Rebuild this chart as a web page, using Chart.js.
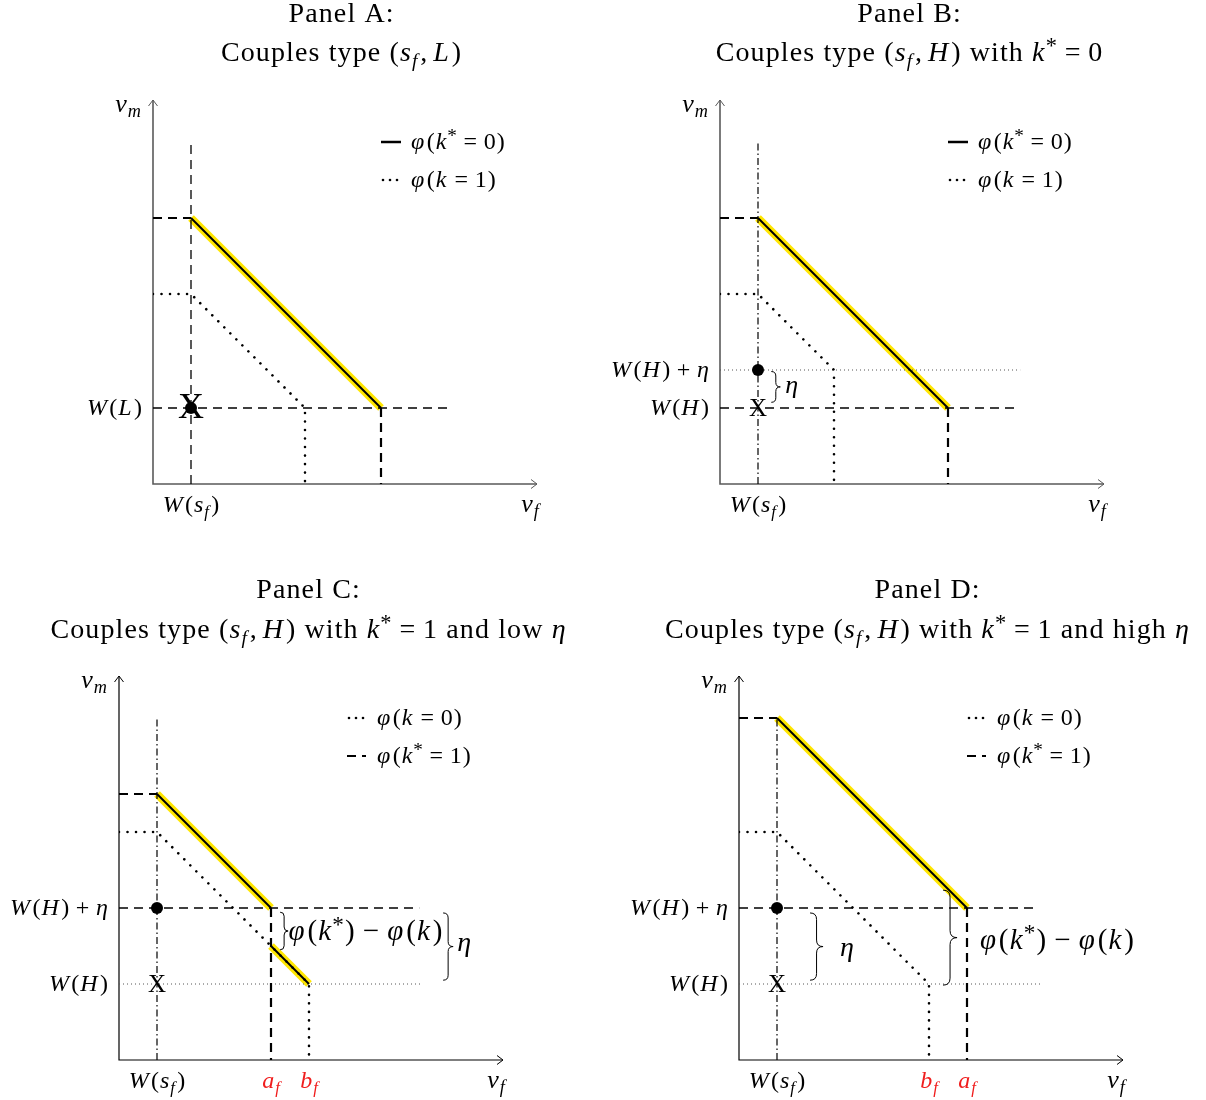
<!DOCTYPE html>
<html>
<head>
<meta charset="utf-8">
<title>Couples types</title>
<script src="https://cdn.jsdelivr.net/npm/chart.js@4.4.1/dist/chart.umd.min.js"></script>
<style>
  body { margin: 0; background: #fff; }
  #wrap { position: relative; width: 1206px; height: 1100px; }
  #wrap canvas { position: absolute; }
</style>
</head>
<body>
<div id="wrap">
  <canvas id="panel-a" width="603" height="550" style="left:0;top:0"></canvas>
  <canvas id="panel-b" width="603" height="550" style="left:603px;top:0"></canvas>
  <canvas id="panel-c" width="603" height="550" style="left:0;top:550px"></canvas>
  <canvas id="panel-d" width="603" height="550" style="left:603px;top:550px"></canvas>
</div>
<script>
// both axes run 0..axisMax in every panel
const axisMax = 10;
const guideRight = 7.8;   // where the horizontal guides stop
const guideTop = 9;       // where the vertical W(s_f) guide stops

// Panel A: couples type (s_f, L)
const panelAFrontier = [[1, 7], [6, 2]];                 // phi(k* = 0)
const panelAAlternative = [[0, 5], [1, 5], [4, 2], [4, 0]]; // phi(k = 1)
const panelAThreat = [1, 2];                             // (W(s_f), W(L))
const panelAXTicks = [1];
const panelAXLabels = ['$W(s_f)$'];
const panelAYTicks = [2];
const panelAYLabels = ['$W(L)$'];

// Panel B: (s_f, H) with k* = 0
const panelBFrontier = [[1, 7], [6, 2]];
const panelBAlternative = [[0, 5], [1, 5], [3, 3], [3, 0]];
const panelBThreat = [1, 2];
const panelBPoint = [1, 3];
const panelBXTicks = [1];
const panelBXLabels = ['$W(s_f)$'];
const panelBYTicks = [3, 2];
const panelBYLabels = ['$W(H)+η$', '$W(H)$'];

// Panel C: (s_f, H) with k* = 1 and low eta
const panelCFrontierHigh = [[1, 7], [4, 4]];
const panelCFrontierLow = [[4, 3], [5, 2]];
const panelCAlternative = [[0, 6], [1, 6], [5, 2], [5, 0]];
const panelCThreat = [1, 2];
const panelCPoint = [1, 4];
const panelCXTicks = [1, 4, 5];
const panelCXLabels = ['$W(s_f)$', '$a_f$', '$b_f$'];
const panelCYTicks = [4, 2];
const panelCYLabels = ['$W(H)+η$', '$W(H)$'];

// Panel D: (s_f, H) with k* = 1 and high eta
const panelDFrontier = [[1, 9], [6, 4]];
const panelDAlternative = [[0, 6], [1, 6], [5, 2], [5, 0]];
const panelDThreat = [1, 2];
const panelDPoint = [1, 4];
const panelDXTicks = [1, 5, 6];
const panelDXLabels = ['$W(s_f)$', '$b_f$', '$a_f$'];
const panelDYTicks = [4, 2];
const panelDYLabels = ['$W(H)+η$', '$W(H)$'];

const FONT = '"Liberation Serif", "Times New Roman", serif';
const RED = '#f01e1e';
const TRACK = 0.04; // extra spacing per glyph, in em

const STYLE = {
    glow: { borderColor: '#ffe600', borderWidth: 8, order: 9 },
    frontier: { borderColor: '#000', borderWidth: 2, order: 1 },
    dotted: { borderColor: '#000', borderWidth: 2.6, borderDash: [0.01, 8.5], borderCapStyle: 'round', order: 3 },
    dashed: { borderColor: '#000', borderWidth: 1.3, borderDash: [9, 6], order: 4 },
    thickDashed: { borderColor: '#000', borderWidth: 2.2, borderDash: [9, 6], order: 4 },
    faint: { borderColor: '#555', borderWidth: 1, borderDash: [1, 3], order: 5 },
    dashDot: { borderColor: '#000', borderWidth: 1.2, borderDash: [7, 3, 1.5, 3], order: 5 },
};

const pts = (list) => list.map(([x, y]) => ({ x, y }));
const line = (list, style) => ({ data: pts(list), showLine: true, pointRadius: 0, fill: false, ...style });
const dot = (p) => ({ data: pts([p]), showLine: false, pointRadius: 6, pointHoverRadius: 6,
    pointBackgroundColor: '#000', pointBorderWidth: 0, order: 0 });
const hGuide = (y, style, x1 = guideRight) => line([[0, y], [x1, y]], style);
const vGuide = (x, style, y0 = 0, y1 = guideTop) => line([[x, y0], [x, y1]], style);

// ---- small math text renderer: $...$ parts get italic letters, _ and ^ scripts
function layoutMath(ctx, src, size) {
    const runs = [];
    let math = false;
    for (let i = 0; i < src.length; i++) {
        const c = src[i];
        if (c === '$') { math = !math; continue; }
        if (!math) { runs.push({ t: c, it: false, k: 1, dy: 0 }); continue; }
        if (c === ' ') continue;
        if (c === '_') {
            const n = src[++i];
            runs.push({ t: n, it: /[A-Za-z]/.test(n), k: 0.7, dy: 0.2 });
        } else if (c === '^') {
            const n = src[++i];
            runs.push({ t: n, it: /[A-Za-z]/.test(n), k: 0.8, dy: -0.3 });
        } else if ('=+-'.includes(c)) {
            runs.push({ t: c === '-' ? '\u2212' : c, it: false, k: 1, dy: 0, pad: 0.24 });
        } else if (c === ',') {
            runs.push({ t: ',', it: false, k: 1, dy: 0, padR: 0.18 });
        } else {
            runs.push({ t: c, it: /[A-Za-zηφ]/.test(c), k: 1, dy: 0 });
        }
    }
    let w = 0;
    runs.forEach((r, i) => {
        ctx.font = `${r.it ? 'italic ' : ''}${size * r.k}px ${FONT}`;
        r.w = ctx.measureText(r.t).width;
        const next = runs[i + 1];
        const corr = r.it && next && !next.it && next.k === 1 ? 0.06 : 0;
        r.pl = (r.pad || 0) * size;
        r.pr = ((r.pad || 0) + (r.padR || 0) + corr + (next ? TRACK : 0)) * size;
        w += r.pl + r.w + r.pr;
    });
    return { runs, w };
}

function drawMath(ctx, src, x, y, size, align = 'left', color = '#000') {
    const { runs, w } = layoutMath(ctx, src, size);
    let cx = align === 'center' ? x - w / 2 : align === 'right' ? x - w : x;
    const base = y + size * 0.3;
    ctx.save();
    ctx.fillStyle = color;
    ctx.textAlign = 'left';
    ctx.textBaseline = 'alphabetic';
    runs.forEach(r => {
        ctx.font = `${r.it ? 'italic ' : ''}${size * r.k}px ${FONT}`;
        cx += r.pl;
        ctx.fillText(r.t, cx, base + r.dy * size);
        cx += r.w + r.pr;
    });
    ctx.restore();
}

// vertical curly brace opening to the left, tip pointing right
function drawBrace(ctx, x, yTop, yBot, amp) {
    const h = amp / 2;
    const mid = (yTop + yBot) / 2;
    const r = Math.min(h, (yBot - yTop) / 4);
    ctx.save();
    ctx.strokeStyle = '#000';
    ctx.lineWidth = 1;
    ctx.beginPath();
    ctx.moveTo(x, yTop);
    ctx.quadraticCurveTo(x + h, yTop, x + h, yTop + r);
    ctx.lineTo(x + h, mid - r);
    ctx.quadraticCurveTo(x + h, mid, x + amp, mid);
    ctx.quadraticCurveTo(x + h, mid, x + h, mid + r);
    ctx.lineTo(x + h, yBot - r);
    ctx.quadraticCurveTo(x + h, yBot, x, yBot);
    ctx.stroke();
    ctx.restore();
}

function drawLegendSample(ctx, kind, x, y) {
    ctx.save();
    ctx.strokeStyle = '#000';
    ctx.fillStyle = '#000';
    if (kind === 'solid') {
        ctx.lineWidth = 2.5;
        ctx.beginPath(); ctx.moveTo(x, y); ctx.lineTo(x + 20, y); ctx.stroke();
    } else if (kind === 'dotted') {
        [2, 9, 16].forEach(dx => { ctx.beginPath(); ctx.arc(x + dx, y, 1.3, 0, Math.PI * 2); ctx.fill(); });
    } else {
        ctx.lineWidth = 2.2;
        ctx.setLineDash([9, 6]);
        ctx.beginPath(); ctx.moveTo(x, y); ctx.lineTo(x + 19, y); ctx.stroke();
    }
    ctx.restore();
}

const decor = (spec) => ({
    id: 'decor',
    beforeDatasetsDraw(chart) {
        const { ctx } = chart;
        const xs = chart.scales.x, ys = chart.scales.y;
        const x0 = xs.getPixelForValue(0), y0 = ys.getPixelForValue(0);
        const xEnd = xs.getPixelForValue(axisMax) + 4, yEnd = ys.getPixelForValue(axisMax) - 4;
        ctx.save();
        ctx.strokeStyle = spec.axisColor;
        ctx.lineWidth = spec.axisWidth;
        ctx.beginPath();
        ctx.moveTo(xEnd, y0); ctx.lineTo(x0, y0); ctx.lineTo(x0, yEnd);
        ctx.stroke();
        ctx.lineWidth = 1;
        ctx.beginPath();
        ctx.moveTo(xEnd - 6, y0 - 4.5); ctx.lineTo(xEnd, y0); ctx.lineTo(xEnd - 6, y0 + 4.5);
        ctx.moveTo(x0 - 4.5, yEnd + 6); ctx.lineTo(x0, yEnd); ctx.lineTo(x0 + 4.5, yEnd + 6);
        ctx.stroke();
        ctx.restore();
    },
    afterDatasetsDraw(chart) {
        const { ctx } = chart;
        const xs = chart.scales.x, ys = chart.scales.y;
        const px = (v) => xs.getPixelForValue(v);
        const py = (v) => ys.getPixelForValue(v);

        // title
        spec.title.forEach((t, i) => drawMath(ctx, t, spec.titleX, spec.titleY[i], 28, 'center'));

        // axis names
        drawMath(ctx, '$v_m$', px(0) - 12, py(axisMax), 26, 'right');
        drawMath(ctx, '$v_f$', px(axisMax) - 3, py(0) + 20, 26, 'center');

        // tick labels
        spec.xTicks.forEach((v, i) => {
            const lbl = spec.xLabels[i];
            drawMath(ctx, lbl, px(v), py(0) + 21, 24, 'center', lbl.includes('W') ? '#000' : RED);
        });
        spec.yTicks.forEach((v, i) => drawMath(ctx, spec.yLabels[i], px(0) - 11, py(v), 24, 'right'));

        // the X marking the threat point
        ctx.save();
        ctx.fillStyle = '#000';
        ctx.textAlign = 'center';
        ctx.textBaseline = 'middle';
        ctx.font = `${spec.xMarkSize}px ${FONT}`;
        ctx.fillText('X', px(spec.xMark[0]), py(spec.xMark[1]) + 1);
        ctx.restore();

        // legend
        spec.legend.forEach((item, i) => {
            const y = py(9 - i);
            drawLegendSample(ctx, item.kind, px(6), y);
            drawMath(ctx, item.text, px(6) + 30, y, 24, 'left');
        });

        // braces and their labels
        (spec.braces || []).forEach(b => {
            drawBrace(ctx, px(b.x), py(b.y1), py(b.y2), b.amp);
            drawMath(ctx, b.text, px(b.lx), py(b.ly), b.size, 'left');
        });
    }
});

function makePanel(id, padding, datasets, spec) {
    return new Chart(document.getElementById(id), {
        type: 'scatter',
        data: { datasets },
        options: {
            responsive: false,
            animation: false,
            events: [],
            layout: { padding },
            scales: {
                x: { type: 'linear', min: 0, max: axisMax, display: false },
                y: { type: 'linear', min: 0, max: axisMax, display: false }
            },
            plugins: { legend: { display: false }, tooltip: { enabled: false }, title: { display: false } }
        },
        plugins: [decor(spec)]
    });
}

makePanel('panel-a', { left: 153, top: 104, right: 70, bottom: 66 }, [
    line(panelAFrontier, STYLE.frontier),
    line(panelAFrontier, STYLE.glow),
    line(panelAAlternative, STYLE.dotted),
    hGuide(panelAThreat[1], STYLE.dashed),
    vGuide(panelAThreat[0], STYLE.dashed),
    line([[0, panelAFrontier[0][1]], panelAFrontier[0]], STYLE.thickDashed),
    line([panelAFrontier[1], [panelAFrontier[1][0], 0]], STYLE.thickDashed),
    dot(panelAThreat)
], {
    title: ['Panel A:', 'Couples type $(s_f, L)$'], titleX: 341, titleY: [14, 53],
    axisColor: '#5a5a5a', axisWidth: 1.6,
    xTicks: panelAXTicks, xLabels: panelAXLabels, yTicks: panelAYTicks, yLabels: panelAYLabels,
    xMark: panelAThreat, xMarkSize: 36,
    legend: [{ kind: 'solid', text: '$φ(k^* = 0)$' }, { kind: 'dotted', text: '$φ(k = 1)$' }]
});

makePanel('panel-b', { left: 117, top: 104, right: 106, bottom: 66 }, [
    line(panelBFrontier, STYLE.frontier),
    line(panelBFrontier, STYLE.glow),
    line(panelBAlternative, STYLE.dotted),
    hGuide(panelBThreat[1], STYLE.dashed),
    hGuide(panelBPoint[1], STYLE.faint, 7.9),
    vGuide(panelBThreat[0], STYLE.dashDot),
    line([[0, panelBFrontier[0][1]], panelBFrontier[0]], STYLE.thickDashed),
    line([panelBFrontier[1], [panelBFrontier[1][0], 0]], STYLE.thickDashed),
    dot(panelBPoint)
], {
    title: ['Panel B:', 'Couples type $(s_f, H)$ with $k^* = 0$'], titleX: 306, titleY: [14, 53],
    axisColor: '#5a5a5a', axisWidth: 1.6,
    xTicks: panelBXTicks, xLabels: panelBXLabels, yTicks: panelBYTicks, yLabels: panelBYLabels,
    xMark: panelBThreat, xMarkSize: 25,
    legend: [{ kind: 'solid', text: '$φ(k^* = 0)$' }, { kind: 'dotted', text: '$φ(k = 1)$' }],
    braces: [{ x: 1.35, y1: 2.96, y2: 2.15, amp: 9, text: '$η$', lx: 1.72, ly: 2.6, size: 26 }]
});

makePanel('panel-c', { left: 119, top: 130, right: 104, bottom: 40 }, [
    line(panelCFrontierHigh, STYLE.frontier),
    line(panelCFrontierLow, STYLE.frontier),
    line(panelCFrontierHigh, STYLE.glow),
    line(panelCFrontierLow, STYLE.glow),
    line(panelCAlternative, STYLE.dotted),
    hGuide(panelCPoint[1], STYLE.dashed, 7.9),
    hGuide(panelCThreat[1], STYLE.faint, 7.95),
    vGuide(panelCThreat[0], STYLE.dashDot),
    line([[0, panelCFrontierHigh[0][1]], panelCFrontierHigh[0]], STYLE.thickDashed),
    line([panelCFrontierHigh[1], [panelCFrontierHigh[1][0], 0]], STYLE.thickDashed),
    dot(panelCPoint)
], {
    title: ['Panel C:', 'Couples type $(s_f, H)$ with $k^* = 1$ and low $η$'], titleX: 308, titleY: [40, 80],
    axisColor: '#000', axisWidth: 1.2,
    xTicks: panelCXTicks, xLabels: panelCXLabels, yTicks: panelCYTicks, yLabels: panelCYLabels,
    xMark: panelCThreat, xMarkSize: 25,
    legend: [{ kind: 'dotted', text: '$φ(k = 0)$' }, { kind: 'dash', text: '$φ(k^* = 1)$' }],
    braces: [
        { x: 4.24, y1: 3.89, y2: 2.9, amp: 8, text: '$φ(k^*) - φ(k)$', lx: 4.46, ly: 3.38, size: 29 },
        { x: 8.53, y1: 3.87, y2: 2.1, amp: 10, text: '$η$', lx: 8.9, ly: 3.1, size: 28 }
    ]
});

makePanel('panel-d', { left: 136, top: 130, right: 87, bottom: 40 }, [
    line(panelDFrontier, STYLE.frontier),
    line(panelDFrontier, STYLE.glow),
    line(panelDAlternative, STYLE.dotted),
    hGuide(panelDPoint[1], STYLE.dashed),
    hGuide(panelDThreat[1], STYLE.faint, 8),
    vGuide(panelDThreat[0], STYLE.dashDot),
    line([[0, panelDFrontier[0][1]], panelDFrontier[0]], STYLE.thickDashed),
    line([panelDFrontier[1], [panelDFrontier[1][0], 0]], STYLE.thickDashed),
    dot(panelDPoint)
], {
    title: ['Panel D:', 'Couples type $(s_f, H)$ with $k^* = 1$ and high $η$'], titleX: 324, titleY: [40, 80],
    axisColor: '#000', axisWidth: 1.2,
    xTicks: panelDXTicks, xLabels: panelDXLabels, yTicks: panelDYTicks, yLabels: panelDYLabels,
    xMark: panelDThreat, xMarkSize: 25,
    legend: [{ kind: 'dotted', text: '$φ(k = 0)$' }, { kind: 'dash', text: '$φ(k^* = 1)$' }],
    braces: [
        { x: 1.87, y1: 3.87, y2: 2.1, amp: 13, text: '$η$', lx: 2.66, ly: 2.97, size: 28 },
        { x: 5.37, y1: 4.47, y2: 1.97, amp: 14, text: '$φ(k^*) - φ(k)$', lx: 6.34, ly: 3.16, size: 29 }
    ]
});
</script>
</body>
</html>
